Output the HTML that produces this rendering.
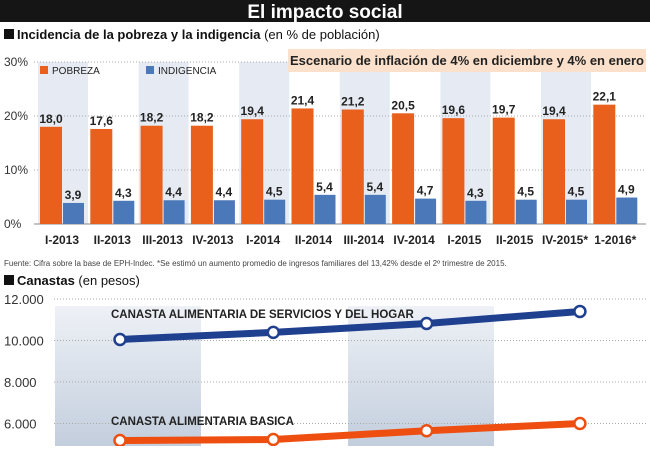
<!DOCTYPE html>
<html><head><meta charset="utf-8"><style>
body{margin:0;width:650px;height:446px;overflow:hidden;background:#fff;font-family:"Liberation Sans",sans-serif}
</style></head><body>
<svg width="650" height="446" xmlns="http://www.w3.org/2000/svg" font-family="Liberation Sans, sans-serif">
<defs>
<linearGradient id="bandg" x1="0" y1="0" x2="0" y2="1"><stop offset="0" stop-color="#eef1f6"/><stop offset="1" stop-color="#c3cedd"/></linearGradient>
</defs>
<rect x="0" y="0" width="650" height="22" fill="#151515"/>
<text x="325" y="18" text-anchor="middle" font-size="19" font-weight="bold" fill="#fff">El impacto social</text>
<rect x="4" y="29" width="10" height="10" fill="#111"/>
<text x="17" y="39" font-size="13" fill="#111"><tspan font-weight="bold">Incidencia de la pobreza y la indigencia</tspan> (en % de población)</text>
<g id="bars"></g>
<rect x="288" y="49" width="358" height="23" fill="#fbe1cb"/>
<text x="467" y="65" text-anchor="middle" font-size="13" font-weight="bold" fill="#222">Escenario de inflación de 4% en diciembre y 4% en enero</text>
<rect x="40" y="66" width="8" height="8" fill="#e8601c"/>
<text x="52" y="74" font-size="10" fill="#222">POBREZA</text>
<rect x="146" y="66" width="8" height="8" fill="#4a78b8"/>
<text x="158" y="74" font-size="10" fill="#222">INDIGENCIA</text>
<text x="4" y="266" font-size="8" fill="#444">Fuente: Cifra sobre la base de EPH-Indec. *Se estimó un aumento promedio de ingresos familiares del 13,42% desde el 2º trimestre de 2015.</text>
<rect x="4" y="275" width="10" height="10" fill="#111"/>
<text x="17" y="285" font-size="13" fill="#111"><tspan font-weight="bold">Canastas</tspan> (en pesos)</text>
<g id="lines"></g>
</svg>
<script>
const NS="http://www.w3.org/2000/svg";
function mk(p,t,a,txt){const e=document.createElementNS(NS,t);for(const k in a)e.setAttribute(k,a[k]);if(txt!==undefined)e.textContent=txt;p.appendChild(e);return e;}
const categories=["I-2013","II-2013","III-2013","IV-2013","I-2014","II-2014","III-2014","IV-2014","I-2015","II-2015","IV-2015*","1-2016*"];
const pobreza=[18.0,17.6,18.2,18.2,19.4,21.4,21.2,20.5,19.6,19.7,19.4,22.1];
const indigencia=[3.9,4.3,4.4,4.4,4.5,5.4,5.4,4.7,4.3,4.5,4.5,4.9];
const pctTicks=[0,10,20,30];
const g=document.getElementById('bars');
const by=v=>224-v*5.4;
const bx=i=>63+i*50.3;
categories.forEach((c,i)=>{if(i%2===0){const r=mk(g,'rect',{x:bx(i)-25,y:by(30),width:50,height:by(0)-by(30),fill:'#e6ebf3'});}});
pctTicks.forEach(t=>{const l=mk(g,'line',{x1:34,x2:646,y1:by(t),y2:by(t),stroke:'#aaa','stroke-dasharray':'1 2'});
const tx=mk(g,'text',{x:4,y:by(t)+4,'font-size':12,fill:'#333'},t+'%');});
const bl=mk(g,'line',{x1:34,x2:646,y1:224,y2:224,stroke:'#888','stroke-width':1});
categories.forEach((c,i)=>{const x=bx(i);
const r1=mk(g,'rect',{x:x-23,y:by(pobreza[i]),width:22,height:by(0)-by(pobreza[i]),fill:'#e8601c'});
const r2=mk(g,'rect',{x:x,y:by(indigencia[i]),width:21,height:by(0)-by(indigencia[i]),fill:'#4a78b8'});
const t1=mk(g,'text',{x:x-12,y:by(pobreza[i])-4,'text-anchor':'middle','font-size':12,'font-weight':'bold',fill:'#222'},pobreza[i].toFixed(1).replace('.',','));
const t2=mk(g,'text',{x:x+10,y:by(indigencia[i])-4,'text-anchor':'middle','font-size':12,'font-weight':'bold',fill:'#222'},indigencia[i].toFixed(1).replace('.',','));
const t3=mk(g,'text',{x:x-1,y:244,'text-anchor':'middle','font-size':12,'font-weight':'bold',fill:'#222'},c);});

const periods=[0,1,2,3];
const servicios=[10050,10390,10820,11400];
const basica=[5180,5230,5650,6000];
const pesoTicks=[6000,8000,10000,12000];
const lg=document.getElementById('lines');
const ly=v=>299+(12000-v)/2000*41.5;
const lx=i=>120+i*153.3;
periods.forEach(i=>{if(i%2===0){const r=mk(lg,'rect',{x:55+i*146.5,y:306,width:146,height:140,fill:'url(#bandg)'});}});
pesoTicks.forEach(t=>{const l=mk(lg,'line',{x1:54,x2:646,y1:ly(t),y2:ly(t),stroke:'#aaa','stroke-dasharray':'1 2'});
const tx=mk(lg,'text',{x:4,y:ly(t)+5,'font-size':13,fill:'#333'},t.toLocaleString('de-DE'));});
[[servicios,'#1f3f8f','CANASTA ALIMENTARIA DE SERVICIOS Y DEL HOGAR',318,'series-servicios'],[basica,'#ee4f10','CANASTA ALIMENTARIA BASICA',425,'series-basica']].forEach(([d,col,lab,ty,nm])=>{
const p=mk(lg,'polyline',{points:d.map((v,i)=>lx(i)+','+ly(v)).join(' '),fill:'none',stroke:col,'stroke-width':7,'stroke-linejoin':'round'});
d.forEach((v,i)=>{const c=mk(lg,'circle',{cx:lx(i),cy:ly(v),r:5.5,fill:'#fff',stroke:col,'stroke-width':2.5});});
const t=mk(lg,'text',{x:111,y:ty,'font-size':11.5,'font-weight':'bold',fill:'#222'},lab);});
</script>
</body></html>
